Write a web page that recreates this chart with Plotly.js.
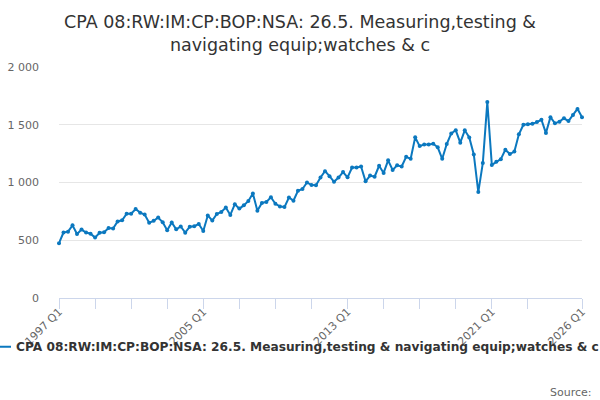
<!DOCTYPE html>
<html>
<head>
<meta charset="utf-8">
<script src="https://cdn.plot.ly/plotly-3.0.1.min.js"></script>
<style>
  html, body { margin: 0; padding: 0; background: #fff; }
  #chart { width: 600px; height: 400px; }
</style>
</head>
<body>
<div id="chart"></div>
<script>
// quarterly series, 1997 Q1 .. 2026 Q1
const firstYear = 1997;
const seriesName = "CPA 08:RW:IM:CP:BOP:NSA: 26.5. Measuring,testing & navigating equip;watches & c";

const values1997to2004 = [
  475, 567, 574, 629, 554, 592, 567, 557,
  523, 565, 569, 606, 602, 663, 673, 729,
  729, 770, 739, 723, 652, 668, 697, 656,
  586, 654, 595, 619, 566, 617, 622, 641
];
const values2005to2012 = [
  580, 715, 670, 727, 745, 783, 719, 812,
  774, 802, 840, 905, 756, 823, 832, 872,
  816, 793, 787, 870, 843, 928, 944, 1000,
  978, 976, 1044, 1098, 1055, 1006, 1043, 1090
];
const values2013to2020 = [
  1045, 1130, 1130, 1138, 1010, 1060, 1050, 1145,
  1083, 1192, 1108, 1149, 1139, 1223, 1205, 1391,
  1315, 1330, 1330, 1335, 1305, 1205, 1333, 1425,
  1452, 1345, 1452, 1390, 1243, 917, 1168, 1696
];
const values2021to2026 = [
  1152, 1179, 1202, 1284, 1246, 1268, 1417, 1500,
  1504, 1508, 1523, 1543, 1428, 1566, 1512, 1527,
  1556, 1532, 1585, 1637, 1566
];

const values = [].concat(values1997to2004, values2005to2012, values2013to2020, values2021to2026);

const quarters = [];
for (let i = 0; i < values.length; i++) {
  quarters.push((firstYear + Math.floor(i / 4)) + " Q" + (i % 4 + 1));
}

// tick marks every two years, labels every eight years, plus the last quarter
const tickLabels = ["1997 Q1", "2005 Q1", "2013 Q1", "2021 Q1", "2026 Q1"];
const tickQuarters = [];
for (let i = 0; i < quarters.length - 8; i += 8) tickQuarters.push(quarters[i]);
tickQuarters.push(quarters[quarters.length - 1]);
const tickText = tickQuarters.map(q => tickLabels.includes(q) ? q : "");

const blue = "#0b78bf";

var data = [{
  x: quarters,
  y: values,
  name: seriesName,
  type: "scatter",
  mode: "lines+markers",
  line: { color: blue, width: 2 },
  marker: { color: blue, size: 4 },
  cliponaxis: false,
}];

var layout = {
  width: 600,
  height: 400,
  margin: { t: 67, b: 102, l: 59, r: 18, autoexpand: false },
  paper_bgcolor: "#fff",
  plot_bgcolor: "#fff",
  font: { family: "DejaVu Sans, sans-serif", color: "#666", size: 11 },
  separators: ". ",
  title: {
    text: "CPA 08:RW:IM:CP:BOP:NSA: 26.5. Measuring,testing &<br>navigating equip;watches & c",
    font: { size: 17.5, color: "#333" },
    x: 0.5,
    xref: "container",
    y: 0.93,
    yref: "container",
    yanchor: "top",
  },
  xaxis: {
    type: "category",
    range: [0, quarters.length - 1],
    tickmode: "array",
    tickvals: tickQuarters,
    ticktext: tickText,
    tickangle: -45,
    ticks: "outside",
    ticklen: 10,
    tickcolor: "#ccd6eb",
    ticklabelstandoff: -8,
    showline: true,
    linecolor: "#ccd6eb",
    linewidth: 1,
    showgrid: false,
    zeroline: false,
    tickfont: { size: 11, color: "#666" },
  },
  yaxis: {
    range: [0, 2000],
    dtick: 500,
    tick0: 0,
    separatethousands: true,
    showgrid: true,
    gridcolor: "#e6e6e6",
    gridwidth: 1,
    zeroline: false,
    showline: false,
    ticks: "",
    ticklabelstandoff: 19,
    tickfont: { size: 11, color: "#666" },
  },
  showlegend: true,
  legend: {
    orientation: "h",
    x: -83 / 523,
    xanchor: "left",
    y: -0.148,
    yanchor: "top",
    font: { size: 12.2, color: "#333", weight: "bold" },
    bgcolor: "rgba(0,0,0,0)",
  },
  annotations: [{
    text: "Source:",
    xref: "paper",
    yref: "paper",
    x: 1.023,
    xanchor: "right",
    y: -0.409,
    yanchor: "middle",
    showarrow: false,
    font: { size: 11, color: "#666" },
  }],
};

var config = {
  responsive: false,
  displayModeBar: false,
  staticPlot: true,
};

Plotly.newPlot("chart", data, layout, config);
</script>
</body>
</html>
